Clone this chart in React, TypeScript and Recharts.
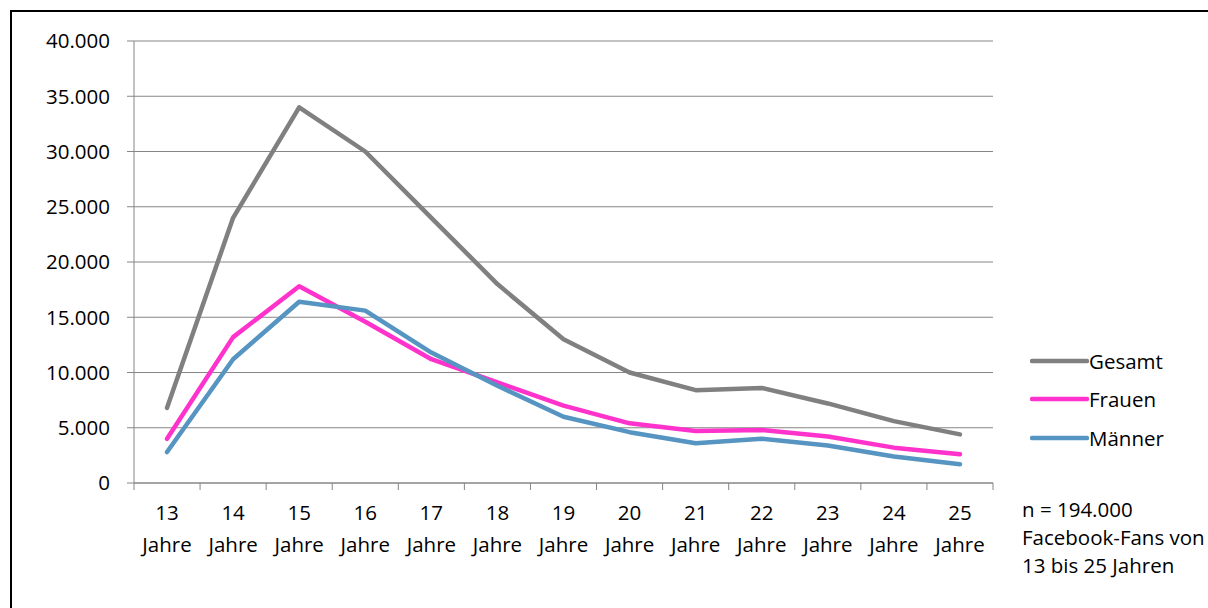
import React from 'react';
import { LineChart, Line, XAxis, YAxis, CartesianGrid, Legend } from 'recharts';

const categories = ['13', '14', '15', '16', '17', '18', '19', '20', '21', '22', '23', '24', '25'];
const seriesNames = ['Gesamt', 'Frauen', 'Männer'];
const gesamt = [6800, 24000, 34000, 30000, 24000, 18000, 13000, 10000, 8400, 8600, 7200, 5600, 4400];
const frauen = [4000, 13200, 17800, 14600, 11200, 9100, 7000, 5400, 4700, 4800, 4200, 3200, 2600];
const maenner = [2800, 11200, 16400, 15600, 11800, 8800, 6000, 4600, 3600, 4000, 3400, 2400, 1700];
const yTicks = [0, 5000, 10000, 15000, 20000, 25000, 30000, 35000, 40000];
const unitLabel = 'Jahre';
const noteLines = ['n = 194.000', 'Facebook-Fans von', '13 bis 25 Jahren'];

const data = categories.map((c, i) => ({
  age: c,
  [seriesNames[0]]: gesamt[i],
  [seriesNames[1]]: frauen[i],
  [seriesNames[2]]: maenner[i],
}));

const colors: Record<string, string> = {
  Gesamt: '#808080',
  Frauen: '#FF33CC',
  'Männer': '#5694C1',
};

const W = 1208;
const H = 608;
const M = { top: 41, right: 215, left: 0, bottom: 0 };
const YW = 134;
const XH = 125;
const PLOT_W = W - M.left - M.right - YW;
const HALF = PLOT_W / categories.length / 2;
const FONT = "'Open Sans', sans-serif";
const FS = 20.5;
const AXIS = '#868686';

const fmt = (v: number) => String(v).replace(/\B(?=(\d{3})+(?!\d))/g, '.');

function XTick(props: any) {
  const { x, y, payload, index } = props;
  return (
    <g>
      <line x1={x - HALF} x2={x - HALF} y1={y} y2={y + 7} stroke={AXIS} strokeWidth={1} />
      {index === categories.length - 1 && (
        <line x1={x + HALF} x2={x + HALF} y1={y} y2={y + 7} stroke={AXIS} strokeWidth={1} />
      )}
      <text x={x} y={y + 37} textAnchor="middle" fill="#000" fontSize={FS} fontFamily={FONT}>
        {payload.value}
      </text>
      <text x={x} y={y + 68.7} textAnchor="middle" fill="#000" fontSize={FS} fontFamily={FONT}>
        {unitLabel}
      </text>
    </g>
  );
}

function LegendContent(props: any) {
  const payload = [...(props.payload || [])].sort(
    (a: any, b: any) => seriesNames.indexOf(a.value) - seriesNames.indexOf(b.value)
  );
  return (
    <div style={{ fontFamily: FONT, fontSize: FS, color: '#000' }}>
      {payload.map((p: any) => (
        <div key={p.value} style={{ display: 'flex', alignItems: 'center', height: 38.5, lineHeight: '38.5px' }}>
          <svg width={59} height={10} style={{ display: 'block' }}>
            <line x1={2} x2={57} y1={5} y2={5} stroke={p.color} strokeWidth={4.5} strokeLinecap="round" />
          </svg>
          <span>{p.value}</span>
        </div>
      ))}
    </div>
  );
}

export default function App() {
  return (
    <div style={{ position: 'absolute', left: 0, top: 0, width: W, height: H, background: '#fff', overflow: 'hidden' }}>
      <div
        style={{
          position: 'absolute',
          left: 10,
          top: 10,
          width: W - 10,
          height: H - 10,
          borderTop: '2px solid #000',
          borderLeft: '2px solid #000',
          boxSizing: 'border-box',
        }}
      />
      <div style={{ position: 'absolute', left: 0, top: 0 }}>
        <LineChart width={W} height={H} data={data} margin={M}>
          <CartesianGrid vertical={false} stroke={AXIS} strokeWidth={1} />
          <XAxis
            dataKey="age"
            interval={0}
            padding={{ left: HALF, right: HALF }}
            height={XH}
            tickSize={0}
            tickMargin={0}
            tickLine={false}
            axisLine={{ stroke: AXIS, strokeWidth: 1 }}
            tick={<XTick />}
          />
          <YAxis
            width={YW}
            domain={[0, 40000]}
            ticks={yTicks}
            interval={0}
            tickFormatter={fmt}
            tickSize={7}
            tickMargin={17}
            axisLine={{ stroke: AXIS, strokeWidth: 1 }}
            tickLine={{ stroke: AXIS, strokeWidth: 1 }}
            tick={{ fill: '#000', fontSize: FS, fontFamily: FONT }}
          />
          <Legend
            layout="horizontal"
            verticalAlign="middle"
            align="center"
            wrapperStyle={{ left: 1030, top: 341.5, width: 175, height: 116 }}
            content={<LegendContent />}
          />
          {seriesNames.map((s) => (
            <Line
              key={s}
              type="linear"
              dataKey={s}
              name={s}
              stroke={colors[s]}
              strokeWidth={4.5}
              strokeLinecap="round"
              strokeLinejoin="round"
              dot={false}
              activeDot={false}
              isAnimationActive={false}
            />
          ))}
        </LineChart>
      </div>
      <div
        style={{
          position: 'absolute',
          left: 1022,
          top: 494.5,
          fontFamily: FONT,
          fontSize: FS,
          lineHeight: '28.3px',
          color: '#000',
          whiteSpace: 'nowrap',
        }}
      >
        {noteLines.map((l) => (
          <div key={l}>{l}</div>
        ))}
      </div>
    </div>
  );
}
